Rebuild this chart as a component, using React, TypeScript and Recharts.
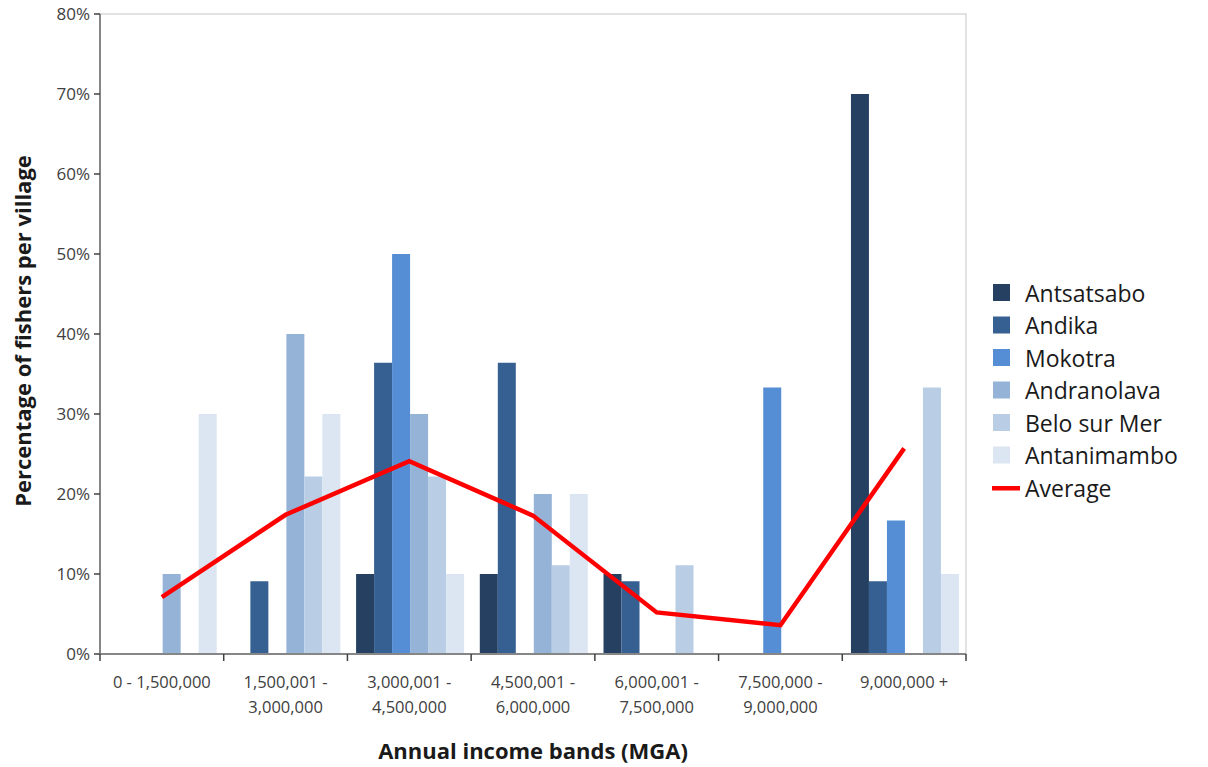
import React from 'react';
import { ComposedChart, Bar, Line, XAxis, YAxis, Legend, Label, ReferenceArea } from 'recharts';

// Income bands (MGA) and their two-line tick labels
const bands = [
  '0 - 1,500,000',
  '1,500,001 - 3,000,000',
  '3,000,001 - 4,500,000',
  '4,500,001 - 6,000,000',
  '6,000,001 - 7,500,000',
  '7,500,000 - 9,000,000',
  '9,000,000 +',
];
const bandLabelLines = [
  ['0 - 1,500,000'],
  ['1,500,001 -', '3,000,000'],
  ['3,000,001 -', '4,500,000'],
  ['4,500,001 -', '6,000,000'],
  ['6,000,001 -', '7,500,000'],
  ['7,500,000 -', '9,000,000'],
  ['9,000,000 +'],
];

// Percentage of fishers per village in each band
const antsatsabo = [null, null, 10, 10, 10, null, 70];
const andika = [null, 9.1, 36.4, 36.4, 9.1, null, 9.1];
const mokotra = [null, null, 50, null, null, 33.3, 16.7];
const andranolava = [10, 40, 30, 20, null, null, null];
const beloSurMer = [null, 22.2, 22.2, 11.1, 11.1, null, 33.3];
const antanimambo = [30, 30, 10, 20, null, null, 10];
const average = [7.1, 17.4, 24.1, 17.3, 5.2, 3.6, 25.7];

const yTicks = [0, 10, 20, 30, 40, 50, 60, 70, 80];

const villages = [
  { key: 'antsatsabo', name: 'Antsatsabo', color: '#254061', values: antsatsabo },
  { key: 'andika', name: 'Andika', color: '#376092', values: andika },
  { key: 'mokotra', name: 'Mokotra', color: '#558ED5', values: mokotra },
  { key: 'andranolava', name: 'Andranolava', color: '#95B3D7', values: andranolava },
  { key: 'beloSurMer', name: 'Belo sur Mer', color: '#B9CDE5', values: beloSurMer },
  { key: 'antanimambo', name: 'Antanimambo', color: '#DCE6F2', values: antanimambo },
];

const data = bands.map((band, i) => {
  const row: Record<string, any> = { band, average: average[i] };
  villages.forEach((v) => {
    row[v.key] = v.values[i];
  });
  return row;
});

const W = 1200;
const H = 765;
const MARGIN = { top: 12, right: 242, bottom: 0, left: 0 };
const Y_AXIS_W = 92;
const X_AXIS_H = 113;
const PLOT_W = W - MARGIN.left - MARGIN.right - Y_AXIS_W;
const BAND_W = PLOT_W / bands.length;

const FONT = '"Open Sans", sans-serif';
const AXIS_COLOR = '#868686';
const TEXT_COLOR = '#404040';
const TITLE_COLOR = '#1a1a1a';

function BandTick(props: any) {
  const { x, y, payload } = props;
  const idx = bands.indexOf(payload.value);
  const lines = bandLabelLines[idx] || [String(payload.value)];
  const left = x - BAND_W / 2;
  const right = x + BAND_W / 2;
  return (
    <g>
      <line x1={left} x2={left} y1={y} y2={y + 7} stroke="#404040" strokeWidth={1.5} />
      {idx === bands.length - 1 && (
        <line x1={right} x2={right} y1={y} y2={y + 7} stroke="#404040" strokeWidth={1.5} />
      )}
      {lines.map((line, i) => (
        <text
          key={i}
          x={x}
          y={y + 34 + i * 25}
          textAnchor="middle"
          fontFamily={FONT}
          fontSize={16.5}
          fill={TEXT_COLOR}
        >
          {line}
        </text>
      ))}
    </g>
  );
}

function LegendContent() {
  const items = [
    ...villages.map((v) => ({ name: v.name, color: v.color, line: false })),
    { name: 'Average', color: '#FF0000', line: true },
  ];
  return (
    <svg width={216} height={230} style={{ display: 'block', overflow: 'visible' }}>
      {items.map((it, i) => {
        const cy = 15 + i * 32.5;
        return (
          <g key={it.name}>
            {it.line ? (
              <rect x={0} y={cy - 2} width={28} height={4.5} fill={it.color} />
            ) : (
              <rect x={1} y={cy - 9} width={17} height={17} fill={it.color} />
            )}
            <text x={33} y={cy + 8.5} fontFamily={FONT} fontSize={23} fill={TITLE_COLOR}>
              {it.name}
            </text>
          </g>
        );
      })}
    </svg>
  );
}

export default function App() {
  return (
    <div style={{ width: W, height: H, fontFamily: FONT, marginTop: -6 }}>
      <ComposedChart
        width={W}
        height={H}
        data={data}
        margin={MARGIN}
        barCategoryGap="7%"
        barGap={0}
      >
        <ReferenceArea
          x1={bands[0]}
          x2={bands[bands.length - 1]}
          y1={0}
          y2={80}
          fill="none"
          fillOpacity={0}
          stroke="#D9D9D9"
          strokeWidth={1.5}
        />
        <XAxis
          dataKey="band"
          height={X_AXIS_H}
          interval={0}
          tickLine={false}
          tickSize={0}
          tickMargin={0}
          axisLine={{ stroke: AXIS_COLOR, strokeWidth: 2 }}
          tick={<BandTick />}
        >
          <Label
            content={({ viewBox }: any) => (
              <text
                x={viewBox.x + viewBox.width / 2}
                y={viewBox.y + 105}
                textAnchor="middle"
                fontFamily={FONT}
                fontWeight="bold"
                fontSize={22}
                fill={TITLE_COLOR}
              >
                Annual income bands (MGA)
              </text>
            )}
          />
        </XAxis>
        <YAxis
          width={Y_AXIS_W}
          domain={[0, 80]}
          ticks={yTicks}
          interval={0}
          tickFormatter={(v: number) => `${v}%`}
          tickSize={6}
          tickMargin={4}
          tickLine={{ stroke: '#404040', strokeWidth: 1.5 }}
          axisLine={{ stroke: AXIS_COLOR, strokeWidth: 2 }}
          tick={{ fontFamily: FONT, fontSize: 17, fill: TEXT_COLOR }}
        >
          <Label
            content={({ viewBox }: any) => {
              const cx = viewBox.x + 14;
              const cy = viewBox.y + viewBox.height / 2 - 3;
              return (
                <text
                  x={cx}
                  y={cy}
                  textAnchor="middle"
                  dominantBaseline="central"
                  transform={`rotate(-90, ${cx}, ${cy})`}
                  fontFamily={FONT}
                  fontWeight="bold"
                  fontSize={22}
                  fill={TITLE_COLOR}
                >
                  Percentage of fishers per village
                </text>
              );
            }}
          />
        </YAxis>
        {villages.map((v) => (
          <Bar
            key={v.key}
            dataKey={v.key}
            name={v.name}
            fill={v.color}
            isAnimationActive={false}
          />
        ))}
        <Line
          type="linear"
          dataKey="average"
          name="Average"
          stroke="#FF0000"
          strokeWidth={4.5}
          dot={false}
          activeDot={false}
          isAnimationActive={false}
        />
        <Legend
          layout="horizontal"
          align="center"
          verticalAlign="middle"
          content={<LegendContent />}
          wrapperStyle={{ left: 984, top: 276, width: 216, height: 230 }}
        />
      </ComposedChart>
    </div>
  );
}
